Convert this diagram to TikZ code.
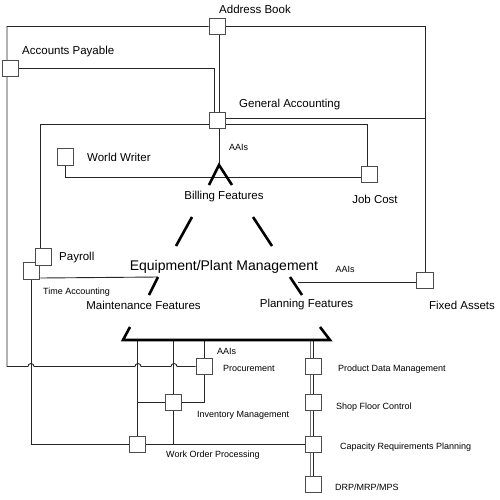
\documentclass[tikz,border=0pt]{standalone}
\usepackage{fontspec}
\setmainfont{Liberation Sans}
\usetikzlibrary{backgrounds}

% small jump where a line crosses another one
\newcommand{\hop}[1]{-- ({#1-3},366.5) arc[start angle=180,end angle=360,radius=3]}

\begin{document}
\begin{tikzpicture}[x=1pt,y=-1pt,
    lnk/.style={draw=black!85,line width=0.9pt},
    heavy/.style={draw=black,line width=2.6pt},
    lbl/.style={font=\fontsize{11.5}{13}\selectfont,inner sep=0pt},
    sml/.style={font=\fontsize{9}{11}\selectfont,inner sep=0pt}]
\useasboundingbox (0,0) rectangle (500,499);

\begin{scope}[every node/.style={rectangle,draw=black!70,fill=white,line width=1.1pt,minimum size=16.5pt,inner sep=0pt}]
    \node (ab) at (217.5,26.5) {};
    \node (ap) at (10.5,68.5) {};
    \node (ga) at (217.5,120.5) {};
    \node (ww) at (65.5,157) {};
    \node (jc) at (369.5,174.5) {};
    \node (ta) at (31.5,271) {};
    \node (pay) at (43.5,257) {};
    \node (fa) at (425,280.5) {};
    \node (proc) at (204.5,366.5) {};
    \node (inv) at (173.5,402.5) {};
    \node (wop) at (137.5,444.5) {};
    \node (pdm) at (313.5,366.5) {};
    \node (sfc) at (313.5,402.5) {};
    \node (crp) at (313.5,444.5) {};
    \node (drp) at (313.5,484.5) {};
\end{scope}

\coordinate (tl) at (7,26.5);
\coordinate (bl) at (7,366.5);
\coordinate (bf) at (219,165);
\coordinate (bfa) at (209,185);
\coordinate (bfb) at (232,185);
\coordinate (eq1a) at (192,217);
\coordinate (eq1b) at (176,246);
\coordinate (eq2a) at (253,217);
\coordinate (eq2b) at (272,246);
\coordinate (mf1) at (158,277);
\coordinate (mf2) at (149,295);
\coordinate (pf1) at (290,277);
\coordinate (pf2) at (302,295);
\coordinate (pfend) at (298,282);
\coordinate (barlt) at (130,327);
\coordinate (barl) at (123,340);
\coordinate (barr) at (330,340);
\coordinate (barrt) at (320,327);
\coordinate (pdmtop) at (313.5,340);

\begin{scope}[on background layer,every path/.style={lnk}]
    \draw (ab.west) -- (tl) -- (bl) \hop{31}\hop{138}\hop{174} -- (proc.west);
    \draw (ab.east) -| (fa.north);
    \draw (ap.east) -| ([xshift=-3.5pt]ga.north);
    \draw ([xshift=1.5pt]ab.south) -- ([xshift=1.5pt]ga.north);
    \draw ([yshift=2.5pt]ga.east) -- ([yshift=2.5pt]ga.east -| fa);
    \draw ([yshift=-4pt]ga.east) -| ([xshift=-2.5pt]jc.north);
    \draw ([yshift=-4pt]ga.west) -| ([xshift=-3.5pt]pay.north);
    \draw ([xshift=1.5pt]ga.south) -- (bf);
    \draw (ww.south) |- ([yshift=-2.5pt]jc.west);
    \draw ([yshift=-7pt]ta.east) -- (mf1);
    \draw ([yshift=-1.5pt]fa.west) -- (pfend);
    \draw (ta.south) |- (wop.west);
    \draw (wop.east) -- (crp.west);
    \draw (wop.north) -- (wop |- barl);
    \draw (inv |- barl) -- (inv |- wop);
    \draw (proc.north) -- (proc |- barl);
    \draw (proc.south) |- (inv.east);
    \draw (inv.west) -- (inv.west -| wop);
    \foreach \a/\b in {pdmtop/pdm.north,pdm.south/sfc.north,sfc.south/crp.north,crp.south/drp.north} {
        \draw[draw=black!55,double=white,double distance=6pt] (\a) -- (\b);
        \draw (\a) -- (\b);
    }
\end{scope}

\draw[heavy] (bfa) -- (bf) -- (bfb);
\draw[heavy] (eq1a) -- (eq1b);
\draw[heavy] (eq2a) -- (eq2b);
\draw[heavy] (mf1) -- (mf2);
\draw[heavy] (pf1) -- (pf2);
\draw[heavy] (barlt) -- (barl) -- (barr) -- (barrt);

\node[lbl,anchor=west] (abl) at (219,9) {Address Book};
\node[lbl,anchor=west] (apl) at (22,52) {Accounts Payable};
\node[lbl,anchor=west] (gal) at (239,105) {General Accounting};
\node[lbl,anchor=west] (wwl) at (87,157) {World Writer};
\node[sml,anchor=west] (aai1) at (229,147) {AAIs};
\node[lbl] (bft) at (224,197) {Billing Features};
\node[lbl] (jcl) at (375,199) {Job Cost};
\node[font=\fontsize{14}{16}\selectfont,inner sep=0pt] (eqp) at (224,266.5) {Equipment/Plant Management};
\node[sml] (aai2) at (345,269) {AAIs};
\node[lbl,anchor=west] (payl) at (59,258) {Payroll};
\node[sml,anchor=west] (tal) at (43,292) {Time Accounting};
\node[lbl] (mfl) at (143.5,305) {Maintenance Features};
\node[lbl] (pfl) at (306.5,305) {Planning Features};
\node[lbl] (fal) at (462,305) {Fixed Assets};
\node[sml,anchor=west] (aai3) at (217,351) {AAIs};
\node[sml,anchor=west] (procl) at (223,368.5) {Procurement};
\node[sml,anchor=west] (invl) at (197,415) {Inventory Management};
\node[sml,anchor=west] (wopl) at (166,455) {Work Order Processing};
\node[sml,anchor=west] (pdml) at (338,369) {Product Data Management};
\node[sml,anchor=west] (sfcl) at (336,407) {Shop Floor Control};
\node[sml,anchor=west] (crpl) at (340,447) {Capacity Requirements Planning};
\node[sml,anchor=west] (drpl) at (335,487) {DRP/MRP/MPS};
\end{tikzpicture}
\end{document}
